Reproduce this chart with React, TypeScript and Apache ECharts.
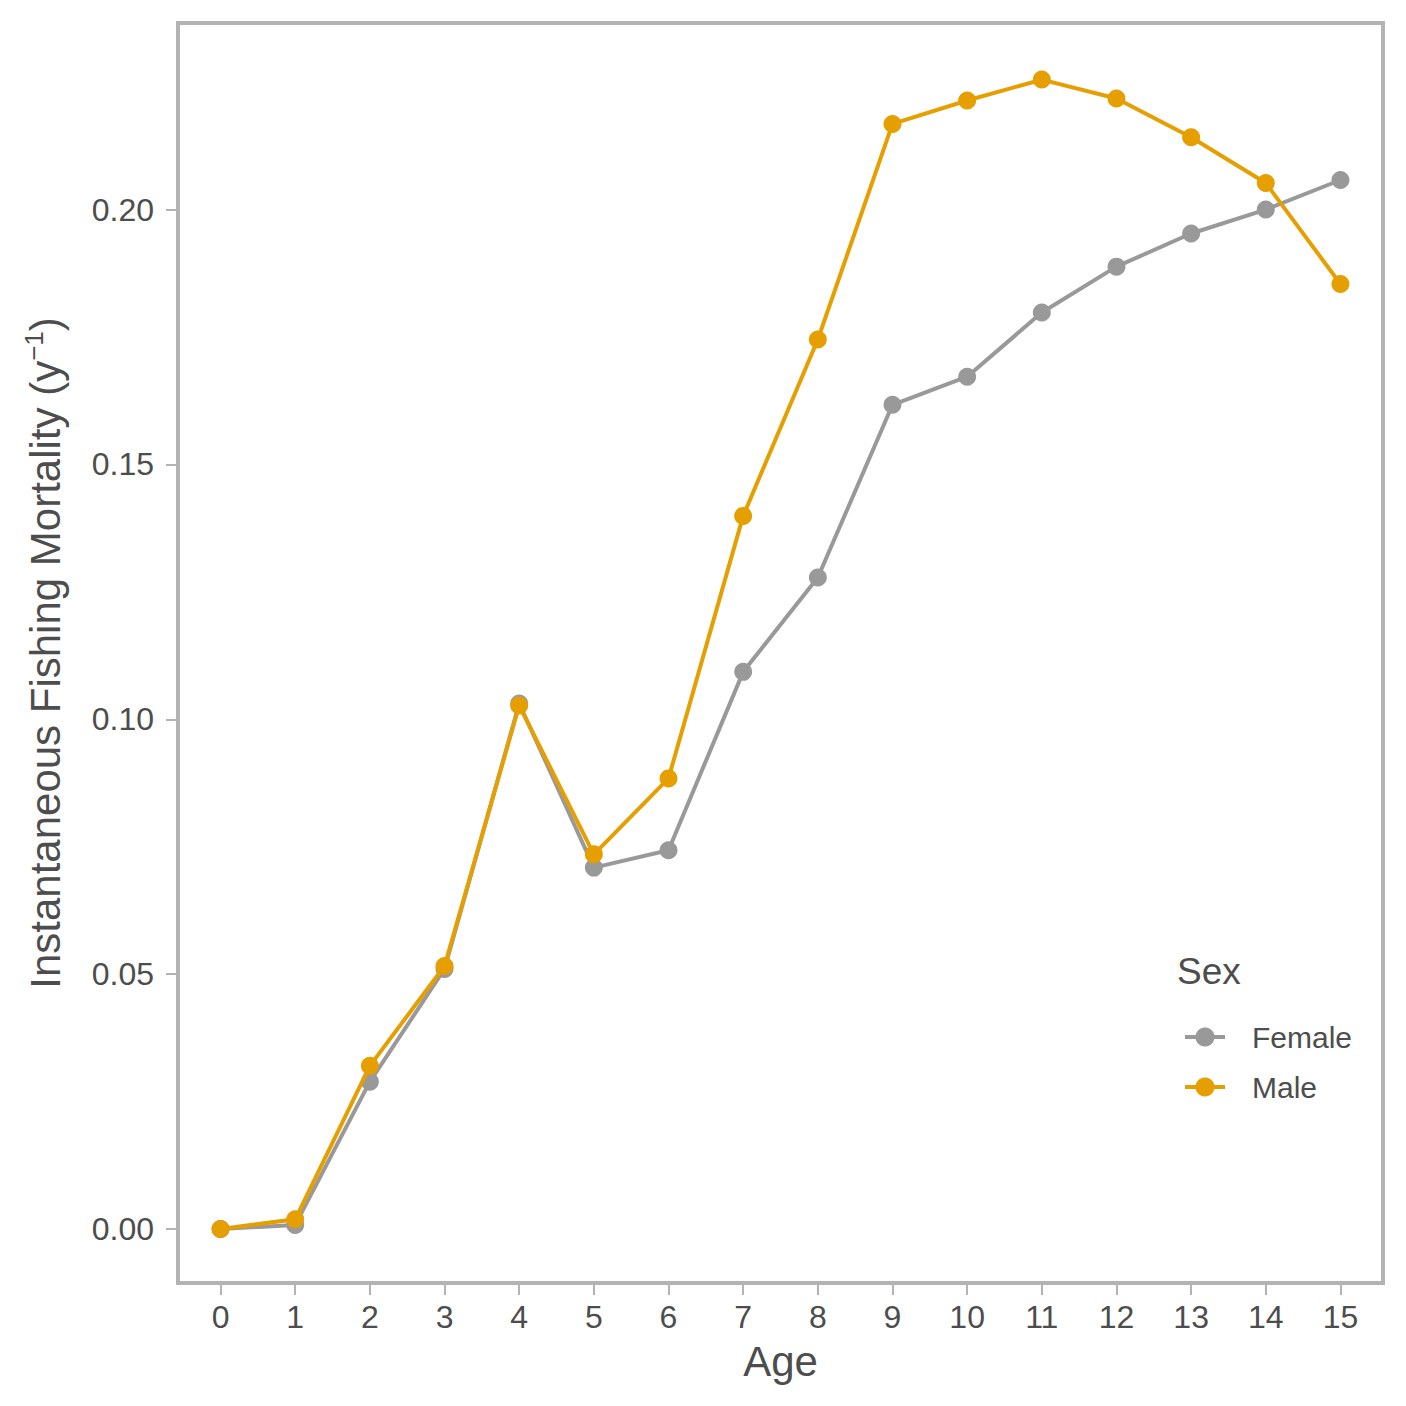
import React, { useEffect, useRef } from "react";
import * as echarts from "echarts";

const ages = [0, 1, 2, 3, 4, 5, 6, 7, 8, 9, 10, 11, 12, 13, 14, 15];
const femaleF = [0.0, 0.0008, 0.0289, 0.051, 0.1031, 0.0709, 0.0743, 0.1093, 0.1278, 0.1617, 0.1672, 0.1798, 0.1888, 0.1953, 0.2, 0.2058];
const maleF = [0.0, 0.0019, 0.032, 0.0516, 0.1027, 0.0735, 0.0884, 0.1399, 0.1745, 0.2168, 0.2214, 0.2255, 0.2218, 0.2142, 0.2052, 0.1854];
const yTicks = [0, 0.05, 0.1, 0.15, 0.2];
const seriesNames = ["Female", "Male"];
const seriesColors = ["#999999", "#E69F00"];

const FONT = "'Liberation Sans', Arial, Helvetica, sans-serif";
const TXT = "#4d4d4d";
const BORDER = "#b3b3b3";

export default function App() {
  const ref = useRef<HTMLDivElement>(null);
  useEffect(() => {
    if (!ref.current) return;
    const chart = echarts.init(ref.current, undefined, { renderer: "svg" });
    const sets = [femaleF, maleF];
    chart.setOption({
      animation: false,
      backgroundColor: "#ffffff",
      textStyle: { fontFamily: FONT },
      grid: {
        left: 178,
        right: 23,
        top: 23,
        bottom: 123,
        show: true,
        borderColor: BORDER,
        borderWidth: 4,
        backgroundColor: "transparent",
      },
      xAxis: {
        type: "value",
        min: -0.57,
        max: 15.57,
        name: "Age",
        nameLocation: "middle",
        nameGap: 57,
        nameTextStyle: { fontSize: 42, color: TXT, fontFamily: FONT },
        axisLine: { show: false, onZero: false },
        splitLine: { show: false },
        axisTick: {
          show: true,
          length: 12,
          lineStyle: { color: BORDER, width: 2 },
          customValues: ages,
        },
        axisLabel: {
          fontSize: 32,
          color: TXT,
          fontFamily: FONT,
          margin: 18,
          customValues: ages,
          formatter: (v: number) => String(v),
        },
      },
      yAxis: {
        type: "value",
        min: -0.0106,
        max: 0.2366,
        name: "Instantaneous Fishing Mortality (y{s|−1})",
        nameLocation: "middle",
        nameRotate: 90,
        nameGap: 109,
        nameTextStyle: {
          fontSize: 42,
          color: TXT,
          fontFamily: FONT,
          lineHeight: 48,
          rich: {
            s: { fontSize: 26, lineHeight: 26, color: TXT, fontFamily: FONT, verticalAlign: "top" },
          },
        },
        axisLine: { show: false, onZero: false },
        splitLine: { show: false },
        axisTick: {
          show: true,
          length: 12,
          lineStyle: { color: BORDER, width: 2 },
          customValues: yTicks,
        },
        axisLabel: {
          fontSize: 32,
          color: TXT,
          fontFamily: FONT,
          margin: 24,
          customValues: yTicks,
          formatter: (v: number) => v.toFixed(2),
        },
      },
      legend: {
        data: seriesNames,
        orient: "vertical",
        left: 1183,
        top: 1022,
        padding: 0,
        itemWidth: 40,
        itemHeight: 24,
        itemGap: 20,
        lineStyle: { width: 4 },
        textStyle: {
          fontSize: 30,
          lineHeight: 20,
          color: TXT,
          fontFamily: FONT,
          padding: [0, 0, 0, 22],
        },
      },
      graphic: [
        {
          type: "text",
          left: 1177,
          top: 953,
          style: { text: "Sex", fontSize: 37, fill: TXT, fontFamily: FONT },
        },
      ],
      series: seriesNames.map((name, i) => ({
        name,
        type: "line",
        data: ages.map((a, j) => [a, sets[i][j]]),
        symbol: "circle",
        symbolSize: 18,
        lineStyle: { color: seriesColors[i], width: 4 },
        itemStyle: { color: seriesColors[i], borderWidth: 0 },
        z: 2 + i,
      })),
    });
    return () => chart.dispose();
  }, []);
  return (
    <div
      ref={ref}
      style={{ position: "absolute", left: 0, top: 0, width: 1406, height: 1406 }}
    />
  );
}
